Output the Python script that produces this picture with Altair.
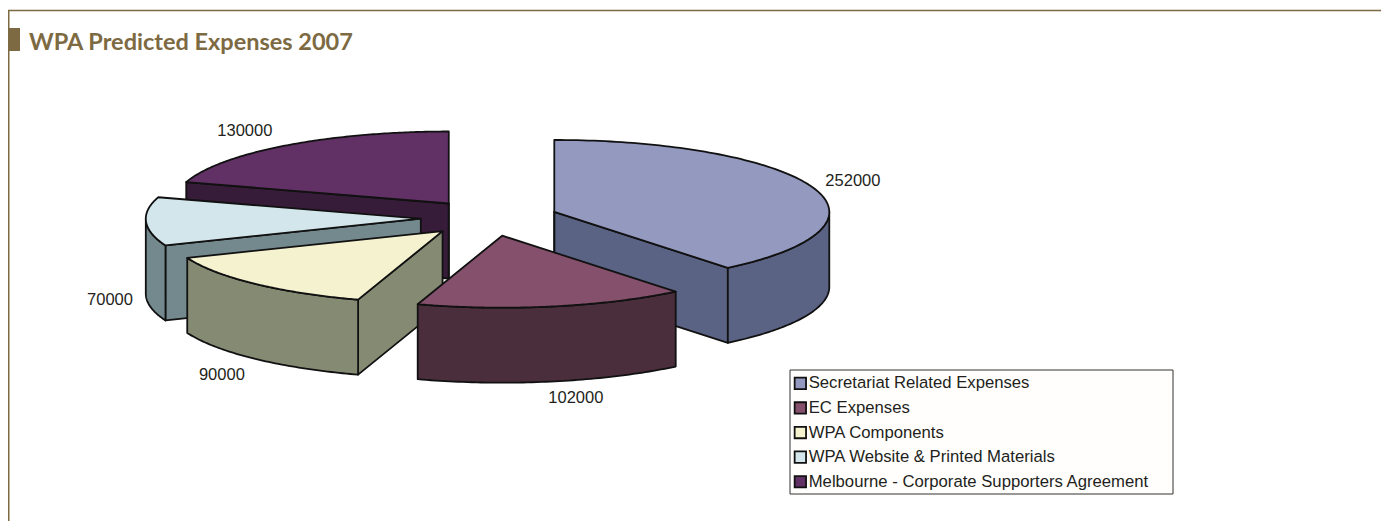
import math
import numpy as np
import altair as alt

categories = ["Secretariat Related Expenses", "EC Expenses", "WPA Components",
              "WPA Website & Printed Materials", "Melbourne - Corporate Supporters Agreement"]
values = [252000, 102000, 90000, 70000, 130000]
top_colors = ["#9499BF", "#85506B", "#F5F2CF", "#D2E6EC", "#613065"]
side_colors = ["#5A6384", "#4A2E3C", "#858A73", "#74898E", "#361C39"]
label_offsets = [(39.5, -7), (23, 16), (-33, 15), (-36, 2), (-41, -14.5)]
paint_order = [4, 3, 2, 0, 1]

# pie layout, in page pixels
CX, CY, RX, RY, DEPTH, EXPLODE = 489.5, 218.0, 275.0, 72.0, 75.0, 0.25
M = 8  # page margin
W, H = 1373, 513
INK = "#231F20"
BROWN = "#7D6A42"


def rim_xy(ax, ay, t, dz=0.0):
    return [ax + RX * math.sin(t), ay - RY * math.cos(t) + dz]


def feature(points, key):
    return {"type": "Feature", "properties": {"key": key},
            "geometry": {"type": "Polygon", "coordinates": [points + [points[0]]]}}


total = sum(values)
bounds = np.cumsum([0] + values) / total * 2 * math.pi
apexes, mids = [], []
for i in range(len(values)):
    mid = (bounds[i] + bounds[i + 1]) / 2
    mids.append(mid)
    apexes.append((CX + EXPLODE * RX * math.sin(mid), CY - EXPLODE * RY * math.cos(mid)))

features = []
for i in paint_order:
    a, b = bounds[i], bounds[i + 1]
    ax, ay = apexes[i]
    side = categories[i] + " (side)"
    for t, visible in ((a, math.sin(a) < 1e-9 and a > 0), (b, math.sin(b) > 0)):
        if visible:
            p, q = [ax, ay], rim_xy(ax, ay, t)
            features.append(feature([p, q, [q[0], q[1] + DEPTH], [p[0], p[1] + DEPTH]], side))
    if i == 0 or i == len(values) - 1:  # the edge-on cut at twelve o'clock
        features.append(feature([[ax, ay], [ax, ay + DEPTH], [ax, ay]], side))
    lo, hi = max(a, math.pi / 2), min(b, 3 * math.pi / 2)
    if hi > lo:
        ts = np.linspace(lo, hi, 60)
        upper = [rim_xy(ax, ay, t) for t in ts]
        lower = [rim_xy(ax, ay, t, DEPTH) for t in ts[::-1]]
        features.append(feature(upper + lower, side))
    top = [[ax, ay]] + [rim_xy(ax, ay, t) for t in np.linspace(a, b, 120)]
    features.append(feature(top, categories[i]))

PROJ = dict(type="identity", scale=1, translate=[-M, -M])
domain = categories + [c + " (side)" for c in categories]

pie = alt.Chart(alt.InlineData(
    values={"type": "FeatureCollection", "features": features},
    format=alt.DataFormat(property="features", type="json"),
)).mark_geoshape(stroke="#111111", strokeWidth=1.8, strokeJoin="round").encode(
    fill=alt.Fill("properties.key:N",
                  scale=alt.Scale(domain=domain, range=top_colors + side_colors),
                  legend=alt.Legend(
                      values=categories, title=None, orient="none",
                      legendX=787 - M, legendY=370 - M,
                      symbolType="square", symbolSize=130, symbolStrokeColor="#111111",
                      symbolStrokeWidth=1.8, labelFont="Liberation Sans", labelFontSize=16.7,
                      labelColor=INK, labelLimit=500, labelOffset=0, rowPadding=5.6,
                      padding=5))
).project(**PROJ)

labels = []
for i, v in enumerate(values):
    ax, ay = apexes[i]
    base = rim_xy(ax, ay, mids[i], 76 if math.cos(mids[i]) < 0.1 else 0)
    labels.append({"label": str(v), "x": base[0] + label_offsets[i][0], "y": base[1] + label_offsets[i][1]})

value_text = alt.Chart(alt.Data(values=labels)).mark_text(
    font="Liberation Sans", fontSize=16.5, color=INK, align="center", baseline="middle"
).encode(longitude="x:Q", latitude="y:Q", text="label:N").project(**PROJ)

one = alt.Data(values=[{}])
frame_top = alt.Chart(one).mark_rule(color=BROWN, strokeWidth=1.5).encode(
    x=alt.value(0), x2=alt.value(W), y=alt.value(2.5))
frame_left = alt.Chart(one).mark_rule(color=BROWN, strokeWidth=1.5).encode(
    x=alt.value(0.75), y=alt.value(2), y2=alt.value(H))
square = alt.Chart(one).mark_rect(color=BROWN).encode(
    x=alt.value(0), x2=alt.value(12), y=alt.value(20), y2=alt.value(43))
title = alt.Chart(one).mark_text(
    font="Lato", fontSize=23.5, fontWeight="bold", color=BROWN,
    align="left", baseline="alphabetic"
).encode(x=alt.value(21), y=alt.value(42), text=alt.value("WPA Predicted Expenses 2007"))
legend_box = alt.Chart(one).mark_rect(fill="#FFFEFC", stroke="#333333", strokeWidth=1).encode(
    x=alt.value(790 - M), x2=alt.value(1173 - M), y=alt.value(370 - M), y2=alt.value(494 - M))

chart = alt.layer(frame_top, frame_left, square, title, legend_box, pie, value_text).properties(
    width=W, height=H, padding=0, background="white",
    autosize=alt.AutoSizeParams(type="none"),
).configure_view(stroke=None)

chart.save("out.html", embed_options={"renderer": "svg", "actions": False})
